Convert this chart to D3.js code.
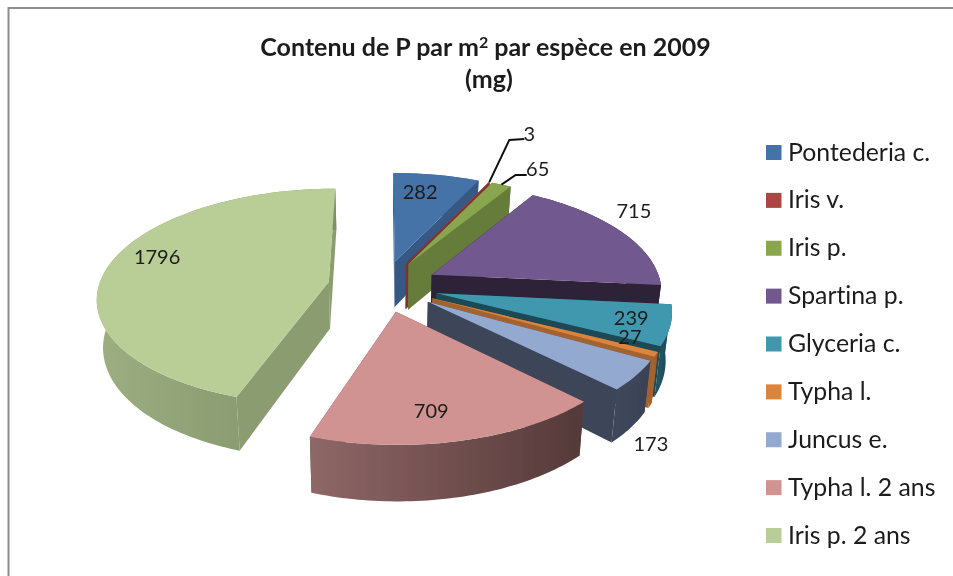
<!DOCTYPE html>
<html><head><meta charset="utf-8">
<script src="https://cdn.jsdelivr.net/npm/d3@7"></script>
<style>html,body{margin:0;padding:0;background:#fff}svg{display:block}text{font-family:Lato,"Open Sans",sans-serif;fill:#1c1c1c;font-variant-ligatures:none}</style>
</head><body><svg id="c" width="953" height="576"></svg>
<script>
// data
const species = ["Pontederia c.","Iris v.","Iris p.","Spartina p.","Glyceria c.","Typha l.","Juncus e.","Typha l. 2 ans","Iris p. 2 ans"];
const values  = [282,3,65,715,239,27,173,709,1796];
// style
const topColors  = ["#4572A7","#AA4643","#89A54E","#71588F","#4198AF","#DB843D","#93A9CF","#D19392","#B9CD96"];
const cutColors  = ["#345884","#7d3331","#667c3a","#2f2239","#1d4a55","#a3622d","#3c4558","#6e4a4a","#8b9c71"];
const wallLeft   = ["#345884","#7d3331","#667c3a","#2f2239","#21525e","#a5632d","#3f475b","#8f6767","#9dae81"];
const wallRight  = ["#345884","#7d3331","#667c3a","#2f2239","#1b4853","#8f5526","#3a4255","#55393a","#7f8f68"];
// label layout, polar in the plane of the slice: radius and bearing in degrees
const labelRho   = [.787,1.70,1.273,1.184,.814,.842,1.317,.775,.812];
const labelBear  = [9,23.2,31.2,54.9,105,112.7,144.8,171.1,288.1];
const leaderFor  = [1,2];

// projection
const cx=383, cy=286, Rx=230, Ry=107, persp=.137, explode=.24, depth=47, converge=.022, labelStretch=1.017;
function project(u,v,bottom){
  const w=1-persp*v;
  let x=cx+Rx*u/w, y=cy+Ry*v/w;
  if(bottom){ x-=(x-cx)*converge; y+=depth/w; }
  return [x,y];
}
const svg=d3.select("#c");
const defs=svg.append("defs");
defs.append("filter").attr("id","soft").attr("filterUnits","userSpaceOnUse")
  .attr("x",0).attr("y",0).attr("width",953).attr("height",576)
  .append("feGaussianBlur").attr("stdDeviation",0.45);
const root=svg.append("g").attr("filter","url(#soft)");
root.append("rect").attr("width",953).attr("height",576).attr("fill","#fff");
root.append("rect").attr("x",8.5).attr("y",8).attr("width",960).attr("height",600)
  .attr("fill","#fff").attr("stroke","#8c8c8c").attr("stroke-width",2);

const pie=d3.pie().sort(null).startAngle(0).endAngle(2*Math.PI);
const slices=pie(values).map(d=>{
  const mid=(d.startAngle+d.endAngle)/2;
  const u0=explode*Math.sin(mid), v0=-explode*Math.cos(mid);
  const at=(th,rho,b)=>project(u0+rho*Math.sin(th),v0-rho*Math.cos(th),b);
  const steps=Math.max(2,Math.ceil((d.endAngle-d.startAngle)/0.02));
  const ths=d3.range(steps+1).map(i=>d.startAngle+(d.endAngle-d.startAngle)*i/steps);
  return {i:d.index,mid,u0,v0,at,ths,start:d.startAngle,end:d.endAngle};
});
const line=d3.line();
const order=slices.slice().sort((a,b)=>d3.ascending(a.v0,b.v0));
order.forEach(s=>{
  const g=root.append("g");
  const topArc=s.ths.map(t=>s.at(t,1,false));
  const botArc=s.ths.map(t=>s.at(t,1,true));
  const gid="w"+s.i;
  const xs=topArc.map(p=>p[0]);
  const lg=defs.append("linearGradient").attr("id",gid).attr("gradientUnits","userSpaceOnUse")
    .attr("x1",d3.min(xs)).attr("x2",d3.max(xs)).attr("y1",0).attr("y2",0);
  lg.append("stop").attr("offset",0).attr("stop-color",wallLeft[s.i]);
  lg.append("stop").attr("offset",1).attr("stop-color",wallRight[s.i]);
  // cut walls sit behind the outer wall
  [s.start,s.end].forEach(th=>{
    g.append("path").attr("fill",cutColors[s.i])
      .attr("d",line([s.at(th,0,false),s.at(th,1,false),s.at(th,1,true),s.at(th,0,true)])+"Z");
  });
  // outer wall
  g.append("path").attr("d",line(topArc.concat(botArc.slice().reverse()))+"Z").attr("fill",`url(#${gid})`);
  // top face
  g.append("path").attr("fill",topColors[s.i]).attr("d",line([s.at(0,0,false)].concat(topArc))+"Z");
});

// labels
const lp=slices.map(s=>{
  const p=s.at(labelBear[s.i]*Math.PI/180,labelRho[s.i],false);
  return [cx+1+(p[0]-cx)*labelStretch,p[1]];
});
leaderFor.forEach(i=>{
  const s=slices[i], p=lp[i], halfW=String(values[i]).length*6;
  const end=[p[0]-halfW+1,p[1]+(i===1?6:7)];
  const knee=[end[0]-(i===1?15:11),end[1]+(i===1?1:0)];
  root.append("path").attr("fill","none").attr("stroke","#111").attr("stroke-width",2)
    .attr("d",line([s.at(s.mid,1,false),knee,end]));
});
root.selectAll("text.v").data(slices).join("text").attr("class","v")
  .attr("x",s=>lp[s.i][0]).attr("y",s=>lp[s.i][1]).attr("text-anchor","middle").attr("dominant-baseline","central")
  .attr("font-size",20).text(s=>values[s.i]);

// title
const t=root.append("text").attr("text-anchor","middle").attr("x",485.5).attr("y",55.5).attr("font-size",25).attr("font-weight",700);
t.append("tspan").text("Contenu de P par m");
t.append("tspan").attr("dy",-8).attr("font-size",16).text("2");
t.append("tspan").attr("dy",8).text(" par espèce en 2009");
root.append("text").attr("text-anchor","middle").attr("x",489).attr("y",88).attr("font-size",25).attr("font-weight",700).text("(mg)");

// legend
const legY=d3.scalePoint().domain(species).range([152.5,535.5]);
const leg=root.selectAll("g.l").data(species).join("g").attr("class","l").attr("transform",d=>`translate(766,${legY(d)})`);
leg.append("rect").attr("x",0).attr("y",-7.5).attr("width",15.5).attr("height",15).attr("fill",(d,i)=>topColors[i]);
leg.append("text").attr("x",22).attr("y",8).attr("font-size",24.8).text(d=>d);
</script></body></html>
